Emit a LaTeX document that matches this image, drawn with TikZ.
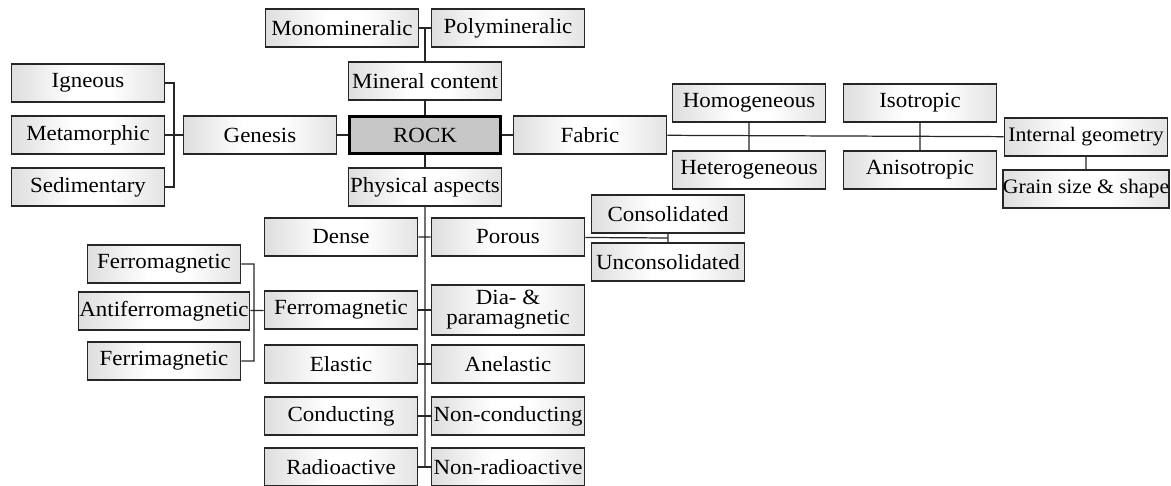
\documentclass[tikz,border=0pt]{standalone}
\usepackage{fontspec}
\setmainfont{Liberation Serif}[FakeStretch=1.06]
\pgfdeclarehorizontalshading{boxshade}{100bp}{color(0bp)=(black!13); color(25bp)=(black!13); color(45bp)=(white); color(57bp)=(white); color(75bp)=(black!11); color(100bp)=(black!11)}
\begin{document}
\begin{tikzpicture}[x=0.2mm,y=-0.2mm,
  box/.style={draw=black!85,line width=0.9pt,shading=boxshade,
    minimum width=30.6mm,minimum height=7.7mm,inner sep=0.5pt,align=center,
    font=\fontsize{12.3}{11.5}\selectfont},
  widebox/.style={box,minimum width=32.6mm,inner sep=0pt,font=\fontsize{11.7}{11.5}\selectfont},
  rockbox/.style={draw=black,line width=1.8pt,fill=black!22,minimum width=30.2mm,minimum height=7.3mm,
    font=\fontsize{12.3}{11.5}\selectfont},
  link/.style={draw=black!85,line width=0.7pt}]
\useasboundingbox(0,0)rectangle(1171,486);
% top and centre column
\node[box](mono)at(342,28){Monomineralic};
\node[box](poly)at(508,28){Polymineralic};
\node[box](mincont)at(425,81){Mineral content};
\node[rockbox](rock)at(425,135){ROCK};
\node[box](genesis)at(260,135){Genesis};
\node[box](fabric)at(590,135){Fabric};
\node[box](phys)at(425,187){Physical aspects};
% genesis
\node[box](igneous)at(88,83){Igneous};
\node[box](metamorphic)at(88,135){Metamorphic};
\node[box](sedimentary)at(88,187){Sedimentary};
% fabric
\node[box](homog)at(749,103){Homogeneous};
\node[box](heterog)at(749,170){Heterogeneous};
\node[box](isotrop)at(920,103){Isotropic};
\node[box](anisotrop)at(920,170){Anisotropic};
\node[widebox](intgeom)at(1086,137){Internal geometry};
\node[widebox](grain)at(1086,189){Grain size \& shape};
% physical aspects
\node[box](dense)at(341,237){Dense};
\node[box](porous)at(508,237){Porous};
\node[box](consol)at(668,214){Consolidated};
\node[box](unconsol)at(668,262){Unconsolidated};
\node[box](ferroM)at(341,310){Ferromagnetic};
\node[box,minimum height=10mm](diapara)at(508,310){Dia- \&\\paramagnetic};
\node[box](elastic)at(341,364){Elastic};
\node[box](anelastic)at(508,364){Anelastic};
\node[box](conduct)at(341,416){Conducting};
\node[box](nonconduct)at(508,416){Non-conducting};
\node[box](radio)at(341,467){Radioactive};
\node[box](nonradio)at(508,467){Non-radioactive};
\node[box](ferroL)at(164,264){Ferromagnetic};
\node[box](antiferro)at(164,311){Antiferromagnetic};
\node[box](ferri)at(164,361){Ferrimagnetic};
% junctions
\coordinate(jmin)at(425,28);
\coordinate(jgen)at(174,135);
\coordinate(jphys)at(425,467);
\coordinate(jcon)at(668,238);
\coordinate(jmag)at(254,311);
\draw[link](mono)--(poly)(mincont)--(jmin)(mincont)--(rock)(rock)--(phys)(genesis)--(rock)(rock)--(fabric);
\draw[link](igneous)-|(jgen)|-(sedimentary)(metamorphic)--(genesis);
\draw[link](fabric)--(intgeom)(homog)--(heterog)(isotrop)--(anisotrop)(intgeom)--(grain);
\draw[link](phys)--(jphys)(dense)--(porous)(porous)--(jcon)(consol)--(unconsol);
\draw[link](ferroM)--(diapara)(elastic)--(anelastic)(conduct)--(nonconduct)(radio)--(nonradio);
\draw[link](ferroL)-|(jmag)|-(ferri)(antiferro)--(ferroM);
\end{tikzpicture}
\end{document}
